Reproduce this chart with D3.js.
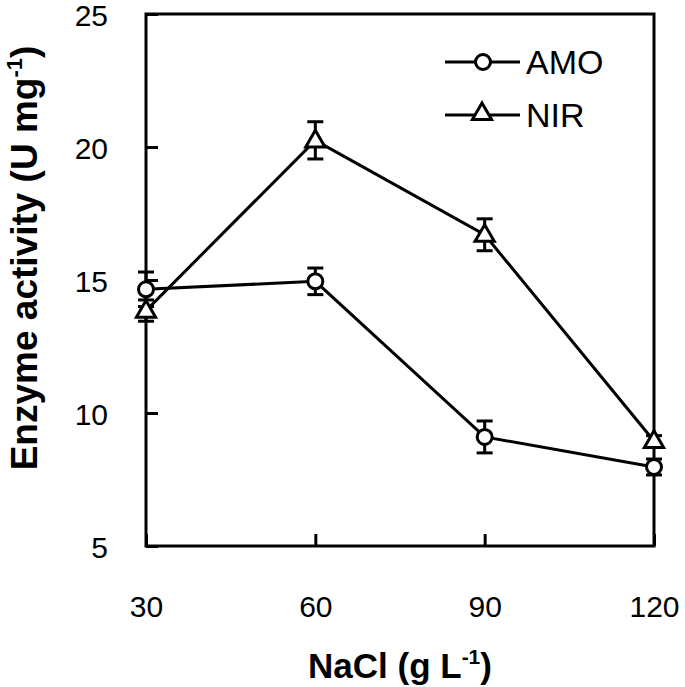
<!DOCTYPE html>
<html><head><meta charset="utf-8">
<script src="https://cdn.jsdelivr.net/npm/d3@7"></script>
<style>body{margin:0;background:#fff}svg{display:block}text{font-family:"Liberation Sans",Arial,sans-serif}</style>
</head><body>
<svg id="c" width="685" height="687"></svg>
<script>
const nacl = [30, 60, 90, 120];
const amo = [14.65, 14.95, 9.1, 7.97];
const amoErr = [0.65, 0.5, 0.6, 0.3];
const nir = [13.85, 20.25, 16.7, 8.95];
const nirErr = [0.4, 0.7, 0.6, 0.2];
const xTicks = [30, 60, 90, 120];
const yTicks = [5, 10, 15, 20, 25];

const svg = d3.select("#c");
const L = 146, R = 654, T = 14, B = 546;
const x = d3.scaleLinear().domain([30, 120]).range([L, R]);
const y = d3.scaleLinear().domain([5, 25]).range([B, T]);

svg.append("rect").attr("x", L).attr("y", T).attr("width", R - L).attr("height", B - T)
  .attr("fill", "none").attr("stroke", "#000").attr("stroke-width", 3);

const ax = svg.append("g").attr("transform", `translate(0,${B})`)
  .call(d3.axisBottom(x).tickValues(xTicks).tickSizeInner(-12).tickSizeOuter(0).tickPadding(50));
ax.select(".domain").remove();
ax.selectAll("line").attr("stroke", "#000").attr("stroke-width", 3);
ax.selectAll("text").attr("font-size", 30).attr("fill", "#000").attr("font-family", "Liberation Sans, Arial, sans-serif");

const ay = svg.append("g").attr("transform", `translate(${L},0)`)
  .call(d3.axisLeft(y).tickValues(yTicks).tickSizeInner(-12).tickSizeOuter(0).tickPadding(38));
ay.select(".domain").remove();
ay.selectAll("line").attr("stroke", "#000").attr("stroke-width", 3);
ay.selectAll("text").attr("font-size", 30).attr("fill", "#000").attr("dy", "0.38em").attr("font-family", "Liberation Sans, Arial, sans-serif");

const xt = svg.append("text").attr("x", 400).attr("y", 678).attr("text-anchor", "middle")
  .attr("font-size", 35).attr("font-weight", "bold");
xt.append("tspan").text("NaCl (g L");
xt.append("tspan").attr("font-size", 21).attr("dy", -14).text("-1");
xt.append("tspan").attr("dy", 14).text(")");

const yt = svg.append("text").attr("transform", "translate(37,258) rotate(-90)").attr("text-anchor", "middle")
  .attr("font-size", 37).attr("font-weight", "bold");
yt.append("tspan").text("Enzyme activity (U mg");
yt.append("tspan").attr("font-size", 22).attr("dy", -15).text("-1");
yt.append("tspan").attr("dy", 15).text(")");

const line = d3.line().x(d => x(d[0])).y(d => y(d[1]));
const tri = d3.symbol().type(d3.symbolTriangle).size(160);

function drawSeries(vals, errs, marker) {
  const pts = nacl.map((n, i) => [n, vals[i], errs[i]]);
  svg.append("path").attr("d", line(pts)).attr("fill", "none").attr("stroke", "#000").attr("stroke-width", 3);
  const g = svg.append("g");
  pts.forEach(p => {
    const cx = x(p[0]), y1 = y(p[1] + p[2]), y2 = y(p[1] - p[2]);
    g.append("line").attr("x1", cx).attr("x2", cx).attr("y1", y1).attr("y2", y2).attr("stroke", "#000").attr("stroke-width", 3);
    [y1, y2].forEach(yy => g.append("line").attr("x1", cx - 8).attr("x2", cx + 8).attr("y1", yy).attr("y2", yy).attr("stroke", "#000").attr("stroke-width", 3));
  });
  pts.forEach(p => {
    const cx = x(p[0]), cy = y(p[1]);
    if (marker === "circle") {
      g.append("circle").attr("cx", cx).attr("cy", cy).attr("r", 7.5).attr("fill", "#fff").attr("stroke", "#000").attr("stroke-width", 3);
    } else {
      g.append("path").attr("d", tri()).attr("transform", `translate(${cx},${cy + 1})`).attr("fill", "#fff").attr("stroke", "#000").attr("stroke-width", 3);
    }
  });
}
drawSeries(amo, amoErr, "circle");
drawSeries(nir, nirErr, "triangle");

const leg = [["AMO", "circle", 62], ["NIR", "triangle", 115]];
leg.forEach(([name, m, ly]) => {
  svg.append("line").attr("x1", 445).attr("x2", 520).attr("y1", ly).attr("y2", ly).attr("stroke", "#000").attr("stroke-width", 3);
  if (m === "circle") svg.append("circle").attr("cx", 483).attr("cy", ly).attr("r", 7.5).attr("fill", "#fff").attr("stroke", "#000").attr("stroke-width", 3);
  else svg.append("path").attr("d", tri()).attr("transform", `translate(482,${ly - 1})`).attr("fill", "#fff").attr("stroke", "#000").attr("stroke-width", 3);
  svg.append("text").attr("x", 526).attr("y", ly).attr("dy", "0.36em").attr("font-size", 34).text(name);
});
</script>
</body></html>
